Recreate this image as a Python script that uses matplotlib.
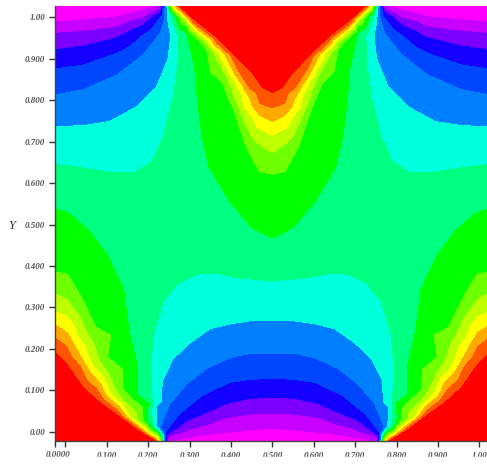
import numpy as np
import matplotlib
matplotlib.use('Agg')
import matplotlib.pyplot as plt
import matplotlib.tri as tri
from matplotlib.patches import Rectangle

c1_x = [-.025, .043, .125, .188, .228, .5, .446, .366, .284, .249]
c1_y = [.988, .993, 1.000, 1.012, 1.0275, .009, .004, -.003, -.015, -.0225]
c2_x = [-.025, .043, .125, .188, .232, .5, .446, .381, .308, .246]
c2_y = [.961, .966, .976, .998, 1.0275, .045, .043, .033, .009, -.0225]
c3_x = [-.025, .043, .125, .188, .229, .235, .5, .446, .391, .325, .270, .244]
c3_y = [.921, .930, .950, .981, 1.012, 1.0275, .084, .081, .069, .040, .009, -.0225]
c4_x = [-.025, .043, .125, .188, .234, .238, .5, .446, .398, .332, .277, .241, .242]
c4_y = [.875, .884, .913, .957, 1.005, 1.0275, .130, .127, .120, .089, .045, -.001, -.0225]
c5_x = [-.025, .043, .125, .188, .229, .241, .241, .5, .446, .398, .342, .294, .253, .229, .240]
c5_y = [.812, .824, .860, .909, .961, 1.000, 1.0275, .190, .190, .180, .154, .117, .069, .011, -.0225]
c6_x = [-.025, .043, .108, .173, .221, .248, .255, .248, .244, .5, .446, .398, .349, .301, .260, .234, .219, .221, .238]
c6_y = [.735, .737, .747, .783, .831, .897, .952, .993, 1.0275, .269, .269, .262, .250, .216, .178, .125, .060, .011, -.0225]
c7_x = [-.025, .036, .108, .173, .212, .236, .260, .272, .270, .253, .247, .5, .422, .361, .318, .270, .236, .212, .205, .209, .224, .236]
c7_y = [.643, .636, .624, .624, .651, .704, .800, .880, .961, 1.010, 1.0275, .366, .373, .385, .383, .359, .318, .238, .156, .076, .004, -.0225]
c8_x = [.250, .294, .313, .320, .330, .349, .398, .453, .5, -.025, .004, .052, .101, .139, .151, .173, .200, .231, .234]
c8_y = [1.0275, .961, .880, .800, .720, .639, .559, .494, .470, .535, .527, .486, .421, .342, .252, .156, .069, -.013, -.0225]
c9_x = [.254, .294, .342, .381, .415, .439, .470, .5, -.025, .004, .036, .072, .101, .139, .188, .232]
c9_y = [1.0275, .981, .921, .841, .759, .687, .631, .624, .383, .378, .325, .252, .180, .101, .028, -.0225]
c10_x = [.258, .289, .342, .391, .429, .463, .5, -.025, .004, .036, .067, .101, .139, .180, .230]
c10_y = [1.0275, .993, .938, .855, .759, .699, .675, .332, .318, .274, .214, .144, .076, .023, -.0225]
c11_x = [.262, .296, .349, .398, .434, .463, .5, -.025, .004, .031, .067, .108, .156, .200, .227]
c11_y = [1.0275, .988, .938, .860, .781, .735, .716, .289, .277, .228, .156, .093, .035, -.003, -.0225]
c12_x = [.266, .306, .357, .405, .446, .470, .5, -.025, .004, .028, .060, .101, .149, .197, .224]
c12_y = [1.0275, .986, .938, .872, .805, .764, .749, .257, .238, .197, .142, .084, .035, -.003, -.0225]
c13_x = [.270, .308, .366, .415, .446, .470, .5, -.025, .004, .036, .077, .125, .173, .220]
c13_y = [1.0275, .988, .938, .877, .829, .793, .783, .226, .204, .156, .101, .052, .011, -.0225]
c14_x = [.276, .308, .366, .415, .453, .477, .5, -.025, .004, .043, .084, .125, .173, .216]
c14_y = [1.0275, .998, .952, .904, .865, .831, .819, .190, .161, .105, .069, .040, .004, -.0225]

# domain corners and edge middles, value is the band number
edge_x = [-.025, -.025, .5, .5]
edge_y = [1.0275, -.0225, 1.0275, -.0225]
edge_z = [0, 15, 15, 0]

band_colors = ['#ff00ff', '#c800ff', '#7d00ff', '#1400ff', '#0046ff', '#0080ff',
               '#00ffdc', '#00ff80', '#00ff00', '#6eff00', '#beff00', '#ffff00',
               '#ffaa00', '#ff5500', '#ff0000']

x_ticks = [-.025, 0, .1, .2, .3, .4, .5, .6, .7, .8, .9, 1.0]
x_labels = ['', '', '0.100', '0.200', '0.300', '0.400', '0.500', '0.600', '0.700', '0.800', '0.900', '1.00']
y_ticks = [0, .1, .2, .3, .4, .5, .6, .7, .8, .9, 1.0]
y_labels = ['0.00', '0.100', '0.200', '0.300', '0.400', '0.500', '0.600', '0.700', '0.800', '0.900', '1.00']

lines = [(c1_x, c1_y), (c2_x, c2_y), (c3_x, c3_y), (c4_x, c4_y), (c5_x, c5_y), (c6_x, c6_y), (c7_x, c7_y),
         (c8_x, c8_y), (c9_x, c9_y), (c10_x, c10_y), (c11_x, c11_y), (c12_x, c12_y), (c13_x, c13_y), (c14_x, c14_y)]

xs = list(edge_x)
ys = list(edge_y)
zs = list(edge_z)
for i, (lx, ly) in enumerate(lines):
    xs += lx
    ys += ly
    zs += [i + 1] * len(lx)
xs = np.array(xs)
ys = np.array(ys)
zs = np.array(zs, dtype=float)

# mirror about x = 0.5
keep = xs < 0.5
xs = np.concatenate([xs, 1 - xs[keep]])
ys = np.concatenate([ys, ys[keep]])
zs = np.concatenate([zs, zs[keep]])

eps = 0.02
levels = [-1] + [k - eps for k in range(1, 15)] + [16]

fig = plt.figure(figsize=(4.87, 4.65), dpi=100)
ax = fig.add_axes([55 / 487, (465 - 441) / 465, (487 - 55) / 487, (441 - 6) / 465])

t = tri.Triangulation(xs, ys)
ax.tricontourf(t, zs, levels=levels, colors=band_colors)

ax.set_xlim(-.025, 1.0186)
ax.set_ylim(-.0225, 1.0275)

ax.spines['top'].set_visible(False)
ax.spines['right'].set_visible(False)
for s in ['left', 'bottom']:
    ax.spines[s].set_color('#444444')
    ax.spines[s].set_linewidth(1.0)

font = dict(family='Liberation Serif', style='italic', weight='bold', size=6.5, color='#555555')
ax.set_xticks(x_ticks)
ax.set_xticklabels(x_labels, **font)
ax.set_yticks(y_ticks)
ax.set_yticklabels(y_labels, **font)
ax.tick_params(axis='both', length=4, width=1, color='#333333', pad=3)
ax.tick_params(axis='x', pad=4)

ax.text(-.0176, -0.0225, '0.0000', ha='center', va='top',
        transform=ax.transData, clip_on=False, **font).set_y(-.0465)
fig.text(12 / 487, 1 - 226 / 465, 'Y', family='Liberation Serif', style='italic', size=9,
         color='#333333', ha='center', va='center')

# the bottom of the labels is cut off in the original
fig.add_artist(Rectangle((0, 0), 1, 8 / 465, transform=fig.transFigure, color='white', zorder=10))

fig.savefig('out.png', dpi=100)
